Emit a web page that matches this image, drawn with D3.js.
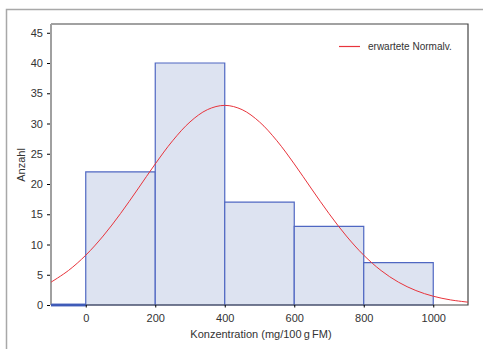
<!DOCTYPE html>
<html><head><meta charset="utf-8">
<script src="https://cdn.jsdelivr.net/npm/d3@7"></script>
<style>body{margin:0;background:#fff}svg{display:block;font-family:"Liberation Sans",Arial,sans-serif}</style>
</head><body><svg id="c" width="483" height="349"></svg>
<script>
const binStarts = [-100, 0, 200, 400, 600, 800];
const binEnds   = [0, 200, 400, 600, 800, 1000];
const counts    = [0, 22, 40, 17, 13, 7];
const xTicks = [0, 200, 400, 600, 800, 1000];
const yTicks = [0, 5, 10, 15, 20, 25, 30, 35, 40, 45];
const curveX = [-100,-50,0,50,100,150,200,250,300,350,400,450,500,550,600,650,700,750,800,850,900,950,1000,1050,1100];
const curveY = [3.77,5.69,8.23,11.4,15.11,19.18,23.32,27.15,30.26,32.29,33,32.29,30.26,27.15,23.32,19.18,15.11,11.4,8.23,5.69,3.77,2.39,1.45,0.84,0.47];
const legendLabel = "erwartete Normalv.";
const xTitle = "Konzentration (mg/100\u2009g\u2009FM)";
const yTitle = "Anzahl";

const svg = d3.select("#c");
const L = 51, R = 468, T = 24, B = 305;
const x = d3.scaleLinear().domain([-100, 1100]).range([L, R]);
const y = d3.scaleLinear().domain([0, 46.45]).range([B, T]);

// outer frame (top and left)
svg.append("path").attr("d", `M6.5,349 V9.5 H483`).attr("fill","none").attr("stroke","#a8a8a8").attr("stroke-width",1.5);

// bars
svg.append("g").selectAll("path").data(counts).join("path")
  .attr("d", (d,i) => {
    const x0 = x(binStarts[i]), x1 = x(binEnds[i]), y0 = y(0), y1 = y(d);
    return `M${x0},${y0} V${y1} H${x1} V${y0} Z`;
  })
  .attr("fill", "#dde3f1")
  .attr("stroke", "#4f67c2")
  .attr("stroke-width", (d) => d === 0 ? 2.5 : 1.2);

// plot border (top, right, bottom)
svg.append("path").attr("d", `M${L},${T} H${R} V${B} H${L}`).attr("fill","none").attr("stroke","#444").attr("stroke-width",1.2);
// left axis line
svg.append("line").attr("x1",L).attr("x2",L).attr("y1",T).attr("y2",B).attr("stroke","#a0a0a0").attr("stroke-width",2);
// zero-bin bottom over border
svg.append("line").attr("x1",x(-100)).attr("x2",x(0)).attr("y1",B).attr("y2",B).attr("stroke","#3f5bb8").attr("stroke-width",2.5);

// normal curve
const pts = curveX.map((v,i)=>[v,curveY[i]]);
svg.append("path").datum(pts)
  .attr("d", d3.line().x(d=>x(d[0])).y(d=>y(d[1])).curve(d3.curveCatmullRom))
  .attr("fill","none").attr("stroke","#e8343c").attr("stroke-width",1);

// y axis
const ya = svg.append("g").attr("transform",`translate(${L-1},0)`)
  .call(d3.axisLeft(y).tickValues(yTicks).tickSize(3).tickPadding(4).tickFormat(d3.format("d")));
ya.select(".domain").remove();
ya.selectAll("line").attr("stroke","#000");
ya.selectAll("text").attr("font-size",11).attr("fill","#333").attr("font-family","Liberation Sans, Arial, sans-serif");

// x axis
const xa = svg.append("g").attr("transform",`translate(0,${B})`)
  .call(d3.axisBottom(x).tickValues(xTicks).tickSize(2.5).tickPadding(7).tickFormat(d3.format("d")));
xa.select(".domain").remove();
xa.selectAll("line").attr("stroke","#000");
xa.selectAll("text").attr("font-size",11).attr("fill","#333").attr("font-family","Liberation Sans, Arial, sans-serif");

// titles
svg.append("text").attr("x", 261).attr("y", 338).attr("text-anchor","middle")
  .attr("font-size",11).attr("fill","#333").text(xTitle);
svg.append("text").attr("transform","translate(25,165) rotate(-90)").attr("text-anchor","middle")
  .attr("font-size",11).attr("fill","#333").text(yTitle);

// legend
svg.append("line").attr("x1",339).attr("x2",360).attr("y1",46.5).attr("y2",46.5).attr("stroke","#e8343c").attr("stroke-width",1.2);
svg.append("text").attr("x",368).attr("y",50).attr("font-size",10).attr("fill","#333").text(legendLabel);
</script></body></html>
